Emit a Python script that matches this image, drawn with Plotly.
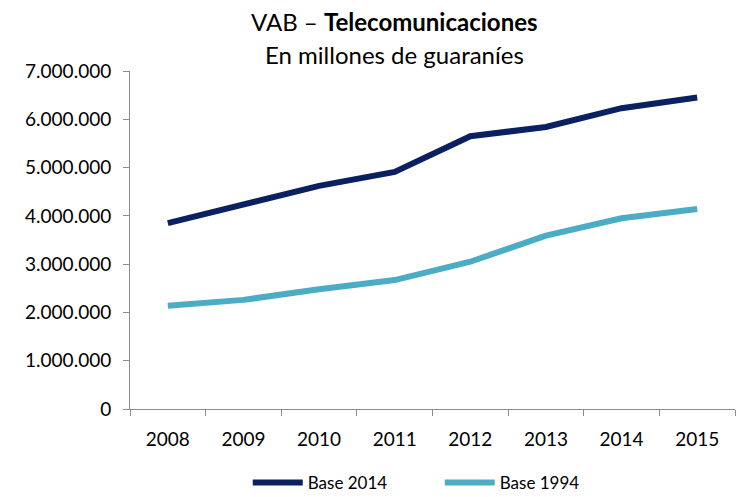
import plotly.graph_objects as go

# Data (millones de guaraníes)
years = ['2008', '2009', '2010', '2011', '2012', '2013', '2014', '2015']
base_2014 = [3850000, 4220000, 4620000, 4910000, 5650000, 5840000, 6230000, 6450000]
base_1994 = [2140000, 2260000, 2480000, 2670000, 3050000, 3590000, 3950000, 4140000]
y_ticks = [0, 1000000, 2000000, 3000000, 4000000, 5000000, 6000000, 7000000]

font_family = 'Lato, "Open Sans", sans-serif'
axis_grey = '#8c8c8c'

fig = go.Figure()

fig.add_trace(go.Scatter(x=years, y=base_2014, name='Base 2014', mode='lines',
                         line=dict(color='#0b2060', width=6)))
fig.add_trace(go.Scatter(x=years, y=base_1994, name='Base 1994', mode='lines',
                         line=dict(color='#4bacc6', width=6)))

# Two-line title as annotations
fig.add_annotation(text='VAB – <b>Telecomunicaciones</b>', xref='paper', yref='paper',
                   x=0.438, y=1.0, yshift=50, yanchor='middle', showarrow=False,
                   font=dict(size=24, color='#000000', family=font_family))
fig.add_annotation(text='En millones de guaraníes', xref='paper', yref='paper',
                   x=0.438, y=1.0, yshift=17, yanchor='middle', showarrow=False,
                   font=dict(size=24, color='#000000', family=font_family))

# page body adds an 8px offset, so margins are shifted to compensate
fig.update_layout(
    width=755, height=497,
    margin=dict(l=122, r=28, t=63, b=96, autoexpand=False),
    paper_bgcolor='white', plot_bgcolor='white',
    separators=',.',
    font=dict(family=font_family, size=19, color='#000000'),
    showlegend=True,
    legend=dict(orientation='h', x=0.512, xanchor='center', yref='container',
                y=0.008, yanchor='bottom', font=dict(size=17), traceorder='normal',
                entrywidth=127, itemwidth=50),
)

fig.update_xaxes(type='category', range=[-0.5, 7.5], showline=True, linecolor=axis_grey,
                 linewidth=1, ticks='outside', tickson='boundaries', ticklen=6,
                 tickcolor=axis_grey, ticklabelstandoff=13, automargin=False,
                 showgrid=False, zeroline=False)
fig.update_yaxes(range=[0, 7000000], tickvals=y_ticks, tickformat=',d',
                 showline=True, linecolor=axis_grey, linewidth=1,
                 ticks='outside', ticklen=6, tickcolor=axis_grey, ticklabelstandoff=8,
                 automargin=False, showgrid=False, zeroline=False)

fig.write_html("out.html")
